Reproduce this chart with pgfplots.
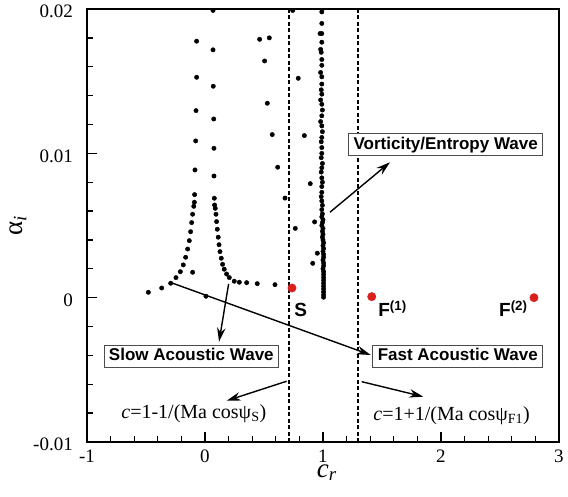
\documentclass[border=0pt]{standalone}
\usepackage{fontspec}
\setmainfont{Liberation Serif}
\setsansfont{Liberation Sans}
\usepackage{pgfplots}
\pgfplotsset{compat=1.18}
\usetikzlibrary{calc,arrows.meta}
\definecolor{modered}{RGB}{218,32,30}
\tikzset{
  box/.style={draw=black!70, fill=white, line width=0.8pt,
    font=\sffamily\bfseries\fontsize{17}{17}\selectfont,
    inner xsep=5pt, inner ysep=3pt, text height=12.5pt, text depth=3.5pt},
  arr/.style={line width=1.4pt, -{Stealth[length=14pt,width=8.5pt]}},
}

% discrete spectrum, eigenvalues in the complex c plane
\pgfplotstableread{
x y
-0.480 0.00037
-0.367 0.00067
-0.291 0.00100
-0.246 0.00139
-0.209 0.00180
-0.184 0.00227
-0.164 0.00280
-0.147 0.00337
-0.133 0.00395
-0.122 0.00457
-0.113 0.00520
-0.105 0.00578
-0.095 0.00633
-0.090 0.00661
-0.088 0.00714
-0.085 0.00885
-0.079 0.01086
-0.076 0.01296
-0.071 0.01527
-0.071 0.01777
-0.105 0.00176
0.008 0.00010
0.079 0.00689
0.081 0.00642
0.087 0.00619
0.093 0.00578
0.098 0.00527
0.104 0.00474
0.112 0.00419
0.119 0.00367
0.127 0.00319
0.138 0.00273
0.149 0.00231
0.163 0.00197
0.183 0.00164
0.206 0.00139
0.248 0.00114
0.291 0.00107
0.353 0.00104
0.443 0.00097
0.593 0.00090
0.068 0.01990
0.068 0.01717
0.070 0.01465
0.074 0.01238
0.076 0.01035
0.076 0.00843
0.463 0.01790
0.545 0.01800
0.505 0.01640
0.528 0.01347
0.570 0.01130
0.616 0.00904
0.678 0.00690
0.765 0.00480
0.743 0.01990
0.790 0.01520
0.842 0.01123
0.892 0.00790
0.929 0.00525
0.952 0.00308
0.913 0.00238
0.990 0.01980
0.990 0.01900
0.975 0.01830
0.990 0.01830
0.990 0.01770
0.980 0.01720
0.985 0.01700
0.990 0.01650
0.990 0.01610
0.980 0.01560
0.990 0.01530
0.990 0.01480
0.985 0.01440
0.990 0.01410
0.980 0.01370
0.990 0.01340
0.995 0.01300
0.990 0.01260
0.980 0.01220
0.990 0.01190
0.995 0.01150
0.990 0.01110
0.985 0.01080
0.990 0.01040
0.990 0.01000
0.985 0.00970
0.995 0.00930
0.990 0.00900
0.985 0.00870
0.990 0.00830
0.995 0.00800
0.990 0.00770
0.990 0.00730
0.985 0.00700
0.990 0.00670
0.995 0.00640
0.990 0.00610
0.995 0.00580
0.990 0.00560
1.000 0.00540
0.995 0.00520
0.990 0.00500
1.000 0.00480
0.995 0.00460
1.000 0.00440
0.995 0.00420
1.000 0.00400
1.005 0.00380
1.000 0.00360
1.005 0.00340
1.000 0.00320
1.005 0.00300
1.005 0.00280
1.000 0.00260
1.005 0.00240
1.005 0.00220
1.000 0.00200
1.005 0.00180
1.005 0.00160
1.005 0.00140
1.005 0.00120
1.005 0.00100
1.005 0.00080
1.005 0.00060
1.005 0.00040
1.005 0.00020
1.005 0.00003
}\spectrum

% synchronisation points S, F(1), F(2)
\pgfplotstableread{
x y
0.737 0.00067
1.413 0.00007
2.788 0.00000
}\syncpts

\begin{document}
\begin{tikzpicture}
\begin{axis}[
  scale only axis, width=472pt, height=433pt,
  xmin=-1, xmax=3, ymin=-0.01, ymax=0.02,
  xtick={-1,0,1,2,3}, xticklabels={-1,0,1,2,3},
  ytick={-0.01,0,0.01,0.02}, yticklabels={-0.01,0,0.01,0.02},
  minor x tick num=4, minor y tick num=4,
  tick align=inside, tick pos=left,
  major tick length=10pt, minor tick length=6pt,
  axis line style={line width=1.6pt},
  every tick/.style={black, line width=1.3pt},
  tick label style={font=\fontsize{19}{19}\selectfont},
  xticklabel style={anchor=north, inner sep=0pt, yshift=-8pt},
  yticklabel style={anchor=east, inner sep=0pt, xshift=-14pt, yshift=-2.5pt},
  xlabel={\textit{c}\textsubscript{\textit{r}}},
  ylabel={α\textsubscript{\textit{i}}},
  label style={font=\fontsize{27}{27}\selectfont},
  xlabel style={at={(axis description cs:0.508,-0.081)}, anchor=base},
  ylabel style={at={(axis description cs:-0.146,0.5)}, anchor=center},
]
\coordinate (bl) at (rel axis cs:0,0);
\coordinate (tr) at (rel axis cs:1,1);

% limits c = 1 -/+ 1/(Ma cos psi)
\addplot[black, line width=1.5pt, dash pattern=on 4pt off 2.5pt]
  coordinates {(0.712,-0.01) (0.712,0.02)};
\addplot[black, line width=1.5pt, dash pattern=on 4pt off 2.5pt]
  coordinates {(1.297,-0.01) (1.297,0.02)};

\addplot[only marks, mark=*, mark size=2.2pt, black] table {\spectrum};
\addplot[only marks, mark=*, mark size=4.2pt, mark options={draw=modered, fill=modered}] table {\syncpts};

% annotations
\draw[arr] (axis cs:1.059,0.00592) -- (axis cs:1.568,0.00938);
\node[box] at (axis cs:2.04,0.0106) {Vorticity/Entropy Wave};

\draw[arr] (axis cs:0.200,0.00095) -- (axis cs:0.119,-0.00305);
\node[box] at (axis cs:-0.116,-0.00405) {Slow Acoustic Wave};

\draw[arr] (axis cs:-0.297,0.00107) -- (axis cs:1.404,-0.00397);
\node[box] at (axis cs:2.142,-0.00405) {Fast Acoustic Wave};

\draw[arr] (axis cs:0.692,-0.00579) -- (axis cs:0.184,-0.00714);
\node[font=\fontsize{20}{20}\selectfont] at (axis cs:-0.095,-0.00806)
  {\textit{c}=1-1/(Ma cosψ\textsubscript{S})};

\draw[arr] (axis cs:1.328,-0.00582) -- (axis cs:1.85,-0.00686);
\node[font=\fontsize{20}{20}\selectfont] at (axis cs:2.09,-0.00818)
  {\textit{c}=1+1/(Ma cosψ\textsubscript{F1})};

\node[font=\sffamily\bfseries\fontsize{19}{19}\selectfont] at (axis cs:0.811,-0.00085) {S};
\node[font=\sffamily\bfseries\fontsize{19}{19}\selectfont] at (axis cs:1.589,-0.00078) {F\textsuperscript{(1)}};
\node[font=\sffamily\bfseries\fontsize{19}{19}\selectfont] at (axis cs:2.613,-0.00078) {F\textsuperscript{(2)}};
\end{axis}
\pgfresetboundingbox
\path ($(bl)+(-87pt,-54pt)$) rectangle ($(tr)+(9pt,9pt)$);
\end{tikzpicture}
\end{document}
